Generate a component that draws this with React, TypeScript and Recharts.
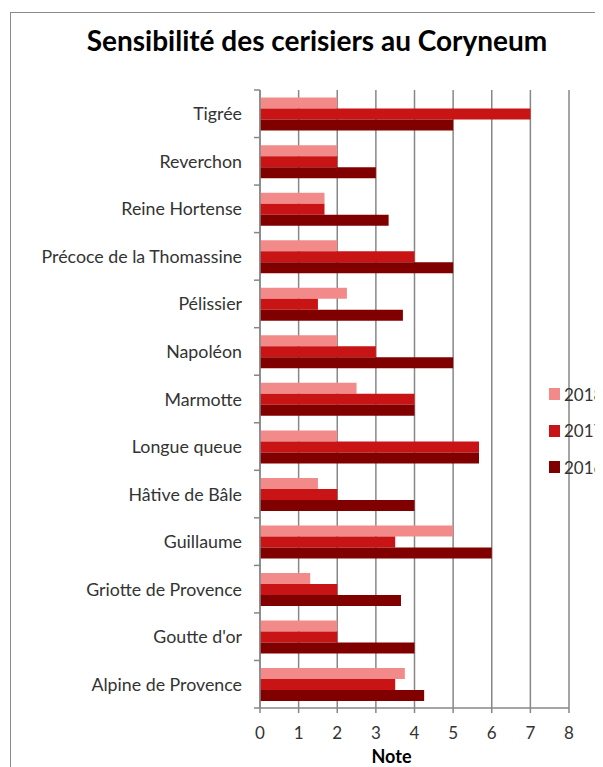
import { BarChart, Bar, XAxis, YAxis, CartesianGrid } from "recharts";

const varieties = [
  "Tigrée",
  "Reverchon",
  "Reine Hortense",
  "Précoce de la Thomassine",
  "Pélissier",
  "Napoléon",
  "Marmotte",
  "Longue queue",
  "Hâtive de Bâle",
  "Guillaume",
  "Griotte de Provence",
  "Goutte d'or",
  "Alpine de Provence",
];

const notes2018 = [2, 2, 1.67, 2, 2.25, 2, 2.5, 2, 1.5, 5, 1.3, 2, 3.75];
const notes2017 = [7, 2, 1.67, 4, 1.5, 3, 4, 5.67, 2, 3.5, 2, 2, 3.5];
const notes2016 = [5, 3, 3.33, 5, 3.7, 5, 4, 5.67, 4, 6, 3.65, 4, 4.25];

const noteTicks = [0, 1, 2, 3, 4, 5, 6, 7, 8];

const series = [
  { key: "y2018", name: "2018", color: "#F38A8A" },
  { key: "y2017", name: "2017", color: "#C81414" },
  { key: "y2016", name: "2016", color: "#800000" },
];

const data = varieties.map((name, i) => ({
  name,
  y2018: notes2018[i],
  y2017: notes2017[i],
  y2016: notes2016[i],
}));

const W = 595;
const H = 759;
const margin = { top: 82, right: 34, left: 0, bottom: 0 };
const xAxisH = 59;
const plotH = H - margin.top - margin.bottom - xAxisH;
const band = plotH / varieties.length;

const font = "Lato, 'Liberation Sans', sans-serif";
const gridColor = "#878787";
const textColor = "#333";

function CategoryTick(props: any) {
  const { x, y, payload, index } = props;
  const last = index === varieties.length - 1;
  return (
    <g>
      <line x1={x + 2} x2={x + 8} y1={y - band / 2} y2={y - band / 2} stroke={gridColor} strokeWidth={1.5} />
      {last && (
        <line x1={x + 2} x2={x + 8} y1={y + band / 2} y2={y + band / 2} stroke={gridColor} strokeWidth={1.5} />
      )}
      <text x={x - 10} y={y} dy={6.5} textAnchor="end" fill={textColor} fontSize={17.8} fontFamily={font}>
        {payload.value}
      </text>
    </g>
  );
}

export default function App() {
  return (
    <div style={{ position: "relative", width: W, height: H, overflow: "hidden", background: "#fff" }}>
      <div
        style={{
          position: "absolute",
          left: 2,
          top: 4,
          width: 760,
          height: 900,
          border: "1.5px solid #8a8a8a",
        }}
      />
      <div
        style={{
          position: "absolute",
          left: 0,
          top: 15,
          width: 618,
          textAlign: "center",
          fontFamily: font,
          fontWeight: "bold",
          fontSize: 28,
          color: "#000",
        }}
      >
        Sensibilité des cerisiers au Coryneum
      </div>
      <div style={{ position: "absolute", left: 0, top: 0 }}>
        <BarChart
          width={W}
          height={H}
          data={data}
          layout="vertical"
          margin={margin}
          barCategoryGap="16%"
          barGap={0}
        >
          <CartesianGrid horizontal={false} stroke={gridColor} strokeWidth={1.5} />
          <XAxis
            type="number"
            domain={[0, 8]}
            ticks={noteTicks}
            height={xAxisH}
            stroke={gridColor}
            strokeWidth={1.5}
            tickSize={5}
            tickMargin={14}
            tick={{ fill: textColor, fontSize: 17, fontFamily: font }}
            label={{
              value: "Note",
              position: "insideBottom",
              offset: 4,
              dx: -23,
              fill: "#000",
              fontSize: 18,
              fontWeight: "bold",
              fontFamily: font,
            }}
          />
          <YAxis
            type="category"
            dataKey="name"
            width={252}
            stroke={gridColor}
            strokeWidth={1.5}
            tickLine={false}
            tick={<CategoryTick />}
            interval={0}
          />
          {series.map((s) => (
            <Bar key={s.key} dataKey={s.key} name={s.name} fill={s.color} isAnimationActive={false} />
          ))}
        </BarChart>
      </div>
      <div style={{ position: "absolute", left: 541, top: 368, fontFamily: font, fontSize: 17, color: textColor }}>
        {series.map((s) => (
          <div key={s.key} style={{ display: "flex", alignItems: "center", height: 36.5, whiteSpace: "nowrap" }}>
            <span style={{ display: "inline-block", width: 11, height: 12, background: s.color, marginRight: 4 }} />
            {s.name}
          </div>
        ))}
      </div>
    </div>
  );
}
